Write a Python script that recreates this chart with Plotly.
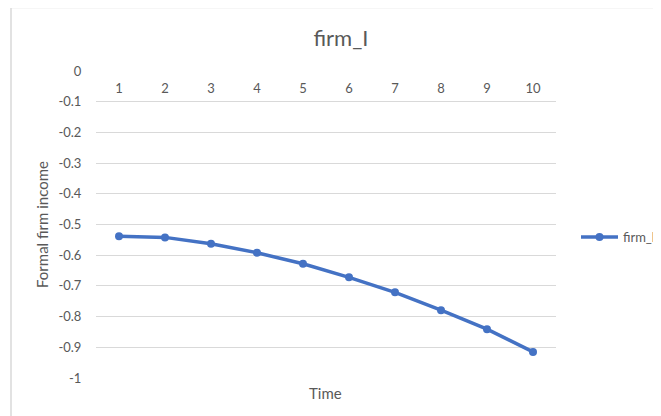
import plotly.graph_objects as go

# Data
time_points = [1, 2, 3, 4, 5, 6, 7, 8, 9, 10]
firm_l = [-0.538, -0.542, -0.563, -0.592, -0.628, -0.672, -0.721, -0.779, -0.841, -0.915]
x_tick_labels = ["1", "2", "3", "4", "5", "6", "7", "8", "9", "10"]
y_tick_vals = [0, -0.1, -0.2, -0.3, -0.4, -0.5, -0.6, -0.7, -0.8, -0.9, -1]
y_tick_labels = ["0", "-0.1", "-0.2", "-0.3", "-0.4", "-0.5", "-0.6", "-0.7", "-0.8", "-0.9", "-1"]

TEXT = "#595959"
GRID = "#d9d9d9"
BLUE = "#4472C4"
FONT = "Lato, 'Liberation Sans', Arial, sans-serif"

OFF = 8  # page body margin
W, H = 661 - OFF, 416 - OFF
# plot area in reference pixel coords: x 96..556, y 71..378
L, R, T, B = 96 - OFF, 661 - 556, 71 - OFF, 416 - 378
pw, ph = W - L - R, H - T - B

def px_x(p):
    return (p - OFF - L) / pw

def px_y(p):
    return (H - B - (p - OFF)) / ph

fig = go.Figure()
fig.add_trace(go.Scatter(
    x=time_points, y=firm_l, name="firm_l", mode="lines+markers",
    line=dict(color=BLUE, width=3.5),
    marker=dict(color=BLUE, size=8),
))

fig.update_layout(
    width=W, height=H,
    margin=dict(l=L, r=R, t=T, b=B, autoexpand=False),
    paper_bgcolor="white", plot_bgcolor="white",
    font=dict(family=FONT, color=TEXT, size=12),
    title=dict(text="firm_I", x=(341 - OFF) / W, xref="container", xanchor="center",
               y=1 - (38 - OFF) / H, yref="container", yanchor="middle",
               font=dict(size=22, color=TEXT, family=FONT)),
    showlegend=True,
    legend=dict(x=px_x(576), y=px_y(237), xanchor="left", yanchor="middle",
                itemwidth=37,
                font=dict(size=13, color=TEXT, family=FONT), bgcolor="rgba(0,0,0,0)"),
    xaxis=dict(range=[0.5, 10.5], tickmode="array", tickvals=time_points, ticktext=x_tick_labels,
               anchor="free", position=1.0, side="bottom",
               showgrid=False, zeroline=False, showline=False,
               ticks="outside", ticklen=5, tickcolor="rgba(0,0,0,0)",
               tickfont=dict(size=13, color=TEXT), fixedrange=True),
    yaxis=dict(range=[-1, 0], tickmode="array", tickvals=y_tick_vals, ticktext=y_tick_labels,
               showgrid=True, gridcolor=GRID, gridwidth=1, zeroline=False, showline=False,
               ticks="outside", ticklen=11, tickcolor="rgba(0,0,0,0)",
               tickfont=dict(size=13, color=TEXT),
               title=dict(text="Formal firm income", font=dict(size=15, color=TEXT), standoff=6)),
    annotations=[dict(text="Time", x=px_x(325), xref="paper", y=px_y(393), yref="paper",
                      xanchor="center", yanchor="middle", showarrow=False,
                      font=dict(size=15, color=TEXT, family=FONT))],
    shapes=[
        dict(type="line", xref="paper", yref="paper", x0=px_x(11), x1=px_x(680),
             y0=px_y(7.5), y1=px_y(7.5), line=dict(color=GRID, width=1.5)),
        dict(type="line", xref="paper", yref="paper", x0=px_x(11), x1=px_x(11),
             y0=px_y(7), y1=px_y(430), line=dict(color=GRID, width=1.5)),
    ],
)

fig.write_html("out.html")
